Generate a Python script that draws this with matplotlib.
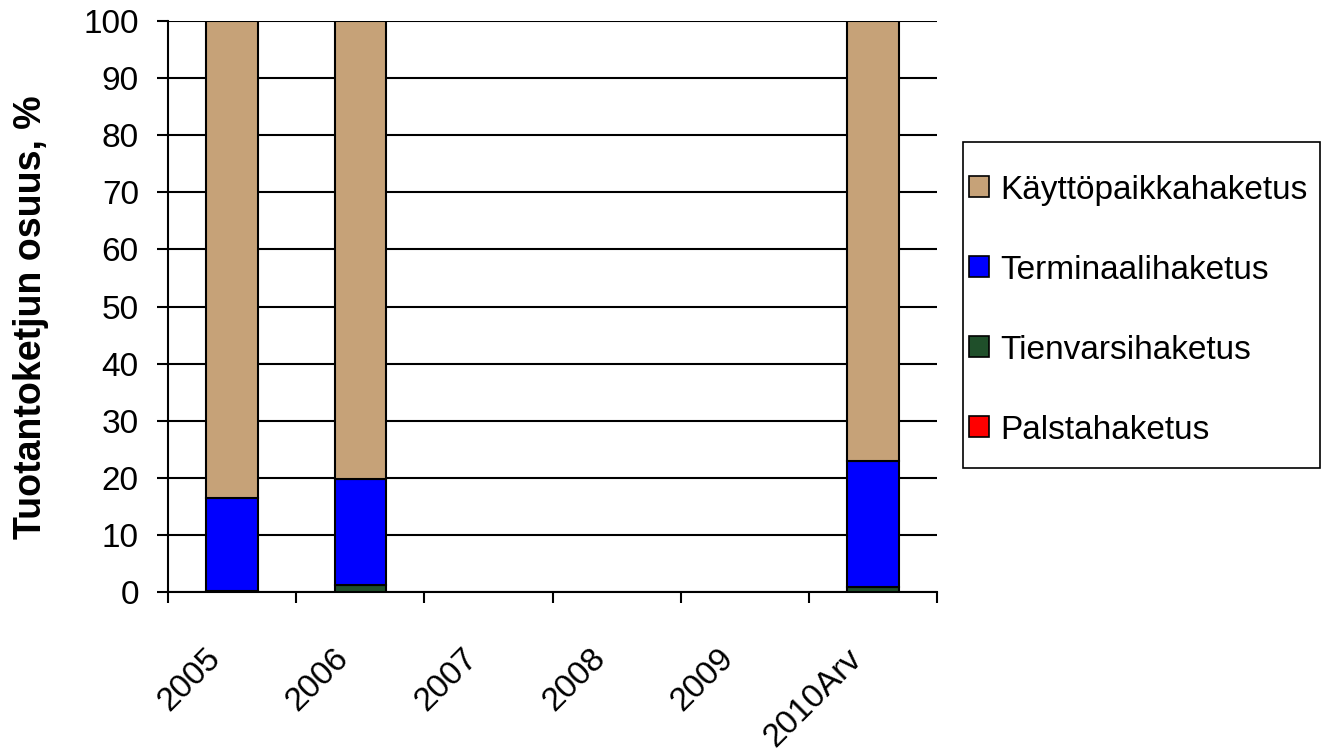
import matplotlib
matplotlib.use("Agg")
import matplotlib.pyplot as plt
import matplotlib.transforms as mtransforms
import numpy as np

plt.rcParams['font.family'] = ['Liberation Sans', 'DejaVu Sans']

years = ['2005', '2006', '2007', '2008', '2009', '2010Arv']
palsta = [0.0, 0.0, 0.0, 0.0, 0.0, 0.0]
tienvarsi = [0.2, 1.2, 0.0, 0.0, 0.0, 0.9]
terminaali = [16.3, 18.6, 0.0, 0.0, 0.0, 22.0]
kayttopaikka = [83.5, 80.2, 0.0, 0.0, 0.0, 77.1]

series = [
    ('Palstahaketus', palsta, '#FF0000'),
    ('Tienvarsihaketus', tienvarsi, '#1F4F2A'),
    ('Terminaalihaketus', terminaali, '#0000FF'),
    ('Käyttöpaikkahaketus', kayttopaikka, '#C6A278'),
]

fig = plt.figure(figsize=(13.21, 7.53), dpi=100)
ax = fig.add_axes([0.1272, 0.2138, 0.5821, 0.7583])

x = np.arange(len(years))
bottom = np.zeros(len(years))
for name, vals, color in series:
    vals = np.array(vals)
    mask = vals > 0
    ax.bar(x[mask], vals[mask], width=0.4, bottom=bottom[mask], color=color,
           edgecolor='black', linewidth=1.5, zorder=3, label=name)
    bottom = bottom + vals

ax.set_xlim(-0.5, len(years) - 0.5)
ax.set_ylim(0, 100)
ax.set_yticks(np.arange(0, 101, 10))
ax.yaxis.grid(True, color='black', linewidth=1.5, zorder=0)
ax.set_axisbelow(True)

# category labels sit between the boundary ticks, rotated 45 degrees
ax.set_xticks(x)
ax.set_xticklabels(years, rotation=45, ha='right', va='top',
                   rotation_mode='anchor', fontsize=24)
ax.set_xticks(np.arange(-0.5, len(years) + 0.5, 1), minor=True)
ax.tick_params(axis='x', which='major', length=0, pad=0)
ax.tick_params(axis='x', which='minor', length=8, width=1.5, color='black')
shift = mtransforms.ScaledTranslation(-0.27, -0.51, fig.dpi_scale_trans)
for lbl in ax.get_xticklabels():
    lbl.set_transform(lbl.get_transform() + shift)

ax.tick_params(axis='y', labelsize=24, length=8, width=1.5, pad=13)

for side in ['top', 'right']:
    ax.spines[side].set_visible(False)
for side in ['left', 'bottom']:
    ax.spines[side].set_linewidth(1.5)

fig.text(31 / 1321, 0.5784, 'Tuotantoketjun osuus, %', fontsize=27,
         fontweight='bold', rotation=90, ha='center', va='center')

# legend with its own frame box
frame = plt.Rectangle((0.729, 0.3785), 0.2703, 0.4329, transform=fig.transFigure,
                      facecolor='white', edgecolor='black', linewidth=1.2)
fig.patches.append(frame)

order = ['Käyttöpaikkahaketus', 'Terminaalihaketus', 'Tienvarsihaketus', 'Palstahaketus']
colors = {s: c for s, v, c in series}
leg_handles = [plt.Rectangle((0, 0), 1, 1, facecolor=colors[n], edgecolor='black',
                             linewidth=1.2) for n in order]
leg = fig.legend(leg_handles, order, loc='center left',
                 bbox_to_anchor=(969 / 1321, 0.5883),
                 fontsize=24, frameon=False,
                 handlelength=0.6, handleheight=0.6, handletextpad=0.35,
                 labelspacing=1.47, borderpad=0, borderaxespad=0)

fig.savefig('out.png', dpi=100, facecolor='white')
